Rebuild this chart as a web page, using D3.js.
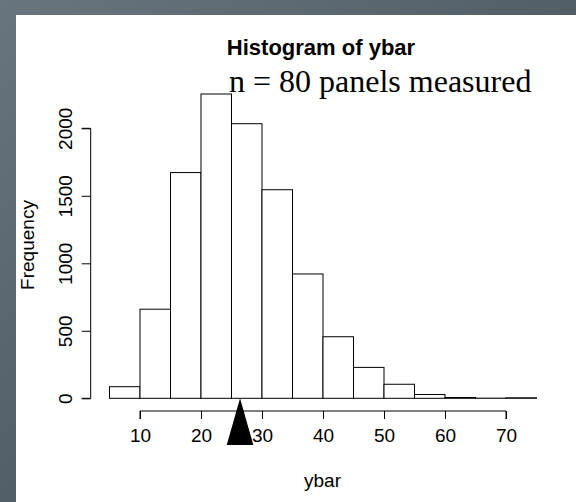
<!DOCTYPE html>
<html>
<head>
<meta charset="utf-8">
<script src="https://cdn.jsdelivr.net/npm/d3@7"></script>
<style>
  html, body { margin: 0; padding: 0; }
  body { width: 576px; height: 502px; overflow: hidden; }
  svg { display: block; }
</style>
</head>
<body>
<script>
// Histogram bins (left edges, width 5) and counts
const binStarts = [5, 10, 15, 20, 25, 30, 35, 40, 45, 50, 55, 60, 65, 70];
const binWidth = 5;
const counts = [86, 660, 1672, 2254, 2034, 1545, 921, 456, 229, 104, 28, 6, 1, 4];
const xTicks = [10, 20, 30, 40, 50, 60, 70];
const yTicks = [0, 500, 1000, 1500, 2000];
const meanMarker = 26.4;
const titleText = "Histogram of ybar";
const subtitleText = "n = 80 panels measured";
const xLabel = "ybar";
const yLabel = "Frequency";

const W = 576, H = 502;
const svg = d3.select("body").append("svg").attr("width", W).attr("height", H);

// Slate backdrop with a white card on top
const defs = svg.append("defs");
const grad = defs.append("linearGradient").attr("id", "bg")
  .attr("x1", "0").attr("y1", "0").attr("x2", "1").attr("y2", "1");
grad.append("stop").attr("offset", "0%").attr("stop-color", "#68747e");
grad.append("stop").attr("offset", "100%").attr("stop-color", "#3e4952");
svg.append("rect").attr("width", W).attr("height", H).attr("fill", "url(#bg)");
svg.append("rect").attr("x", 16).attr("y", 15).attr("width", W - 16).attr("height", H - 15).attr("fill", "#fff");

const x = d3.scaleLinear().domain([5, 75]).range([109.5, 536.5]);
const y = d3.scaleLinear().domain([0, 2000]).range([398.3, 128.3]);
const axisY = 411;   // x-axis line position
const axisX = 90.7;  // y-axis line position

// Bars
svg.append("g").selectAll("rect").data(binStarts).join("rect")
  .attr("x", d => x(d))
  .attr("y", (d, i) => y(counts[i]))
  .attr("width", d => x(d + binWidth) - x(d))
  .attr("height", (d, i) => y(0) - y(counts[i]))
  .attr("fill", "#fff").attr("stroke", "#000").attr("stroke-width", 1);

// X axis
const xAxis = d3.axisBottom(x).tickValues(xTicks).tickSize(8).tickPadding(10).tickFormat(d3.format("d"));
const gx = svg.append("g").attr("transform", `translate(0,${axisY})`).call(xAxis);
gx.select(".domain").attr("d", `M${x(xTicks[0])},8V0H${x(xTicks[xTicks.length - 1])}V8`).attr("stroke", "#000");
gx.selectAll(".tick line").attr("stroke", "#000");
gx.selectAll(".tick text").attr("font-family", "Liberation Sans, Arial, sans-serif")
  .attr("font-size", 19).attr("fill", "#000");

// Y axis
const yAxis = d3.axisLeft(y).tickValues(yTicks).tickSize(9).tickFormat(d3.format("d"));
const gy = svg.append("g").attr("transform", `translate(${axisX},0)`).call(yAxis);
gy.select(".domain").attr("d", `M-9,${y(0)}H0V${y(2000)}H-9`).attr("stroke", "#000");
gy.selectAll(".tick line").attr("stroke", "#000");
gy.selectAll(".tick text")
  .attr("font-family", "Liberation Sans, Arial, sans-serif").attr("font-size", 19).attr("fill", "#000")
  .attr("x", null).attr("dy", null)
  .attr("text-anchor", "middle")
  .attr("transform", `translate(${71.5 - axisX},0) rotate(-90)`);

// Axis titles
svg.append("text").attr("x", 322.5).attr("y", 487)
  .attr("text-anchor", "middle").attr("font-family", "Liberation Sans, Arial, sans-serif")
  .attr("font-size", 19).text(xLabel);
svg.append("text").attr("transform", `translate(34,245) rotate(-90)`)
  .attr("text-anchor", "middle").attr("font-family", "Liberation Sans, Arial, sans-serif")
  .attr("font-size", 19).text(yLabel);

// Main title and subtitle
svg.append("text").attr("x", 321).attr("y", 55)
  .attr("text-anchor", "middle").attr("font-family", "Liberation Sans, Arial, sans-serif")
  .attr("font-weight", "bold").attr("font-size", 22).text(titleText);
svg.append("text").attr("x", 229).attr("y", 91.7)
  .attr("font-family", "Liberation Serif, Times New Roman, serif")
  .attr("font-size", 32).text(subtitleText);

// Marker at the mean
const mx = x(meanMarker);
svg.append("path")
  .attr("d", `M${mx},${y(0)}L${mx - 13.3},445L${mx + 13.3},445Z`)
  .attr("fill", "#000");
</script>
</body>
</html>
